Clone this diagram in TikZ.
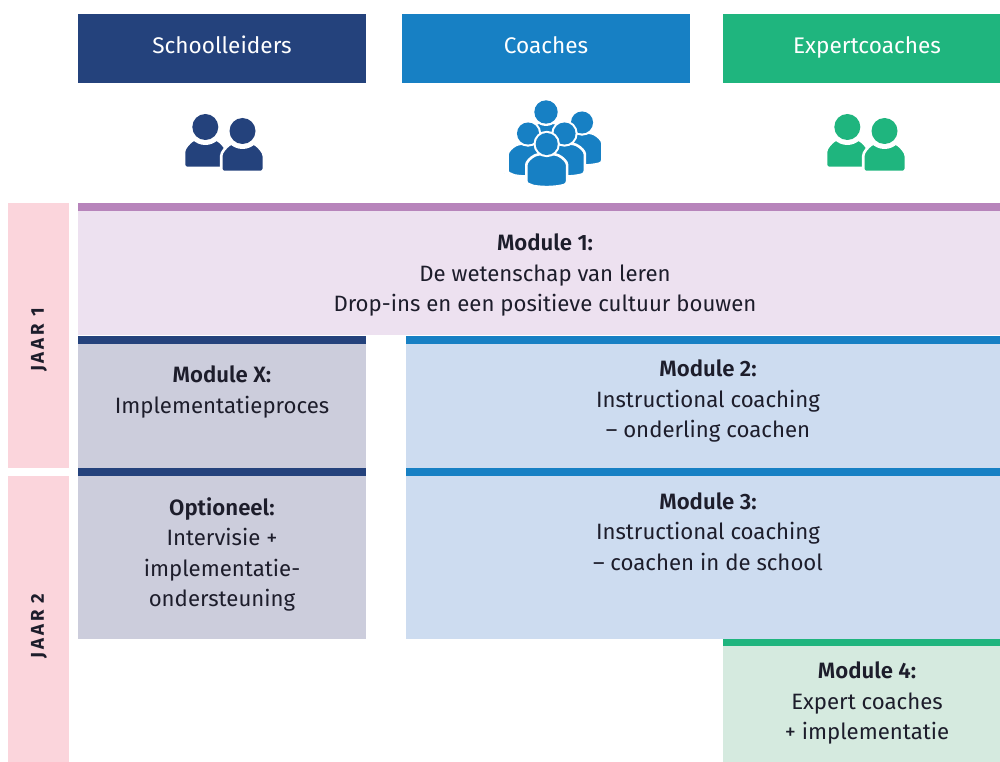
\documentclass[tikz,border=0pt]{standalone}
\usepackage{fontspec}
\setmainfont[BoldFont={Fira Sans SemiBold}]{Fira Sans}
\newfontfamily\jaarfont[LetterSpace=16]{Fira Sans Bold}
\usepackage{tikz}
\usetikzlibrary{positioning}
\definecolor{mainNavy}{HTML}{24427C}
\definecolor{mainBlue}{HTML}{1780C4}
\definecolor{mainGreen}{HTML}{1FB57E}
\definecolor{mainPurple}{HTML}{B784BB}
\definecolor{lightPurple}{HTML}{EDE1F0}
\definecolor{lightGrayBlue}{HTML}{CCCDDC}
\definecolor{lightBlue}{HTML}{CDDCF0}
\definecolor{lightGreen}{HTML}{D5EADF}
\definecolor{lightPink}{HTML}{FBD5DC}
\definecolor{mainInk}{HTML}{1D1D2B}
\tikzset{
    band/.style={anchor=north west, inner sep=0pt, outer sep=0pt},
    head/.style={band, minimum width=288, minimum height=69, text height=16, text depth=5, font=\fontsize{22.6}{26}\selectfont, text=white},
    modtext/.style={align=center, text=mainInk, font=\fontsize{22.2}{30.5}\selectfont},
    jaar/.style={rotate=90, text=mainInk, font=\fontsize{18.5}{22}\jaarfont},
    % colour, half width, bottom, sag of the bottom, white ring round the head
    pics/person/.style n args={5}{code={
        \filldraw[fill=#1, draw=white, line width=2.6, rounded corners=3] (-#2,#3) -- (-#2,28) .. controls (-#2,21) and (-#2+5,16) .. (-11,12)
            -- (11,12) .. controls (#2-5,16) and (#2,21) .. (#2,28) -- (#2,#3)
            .. controls (8,#3+#4) and (-8,#3+#4) .. cycle;
        \fill[white] (0,0) circle (#5);
        \fill[#1] (0,0) circle (13);
    }}
}
\begin{document}
\begin{tikzpicture}[x=1pt, y=-1pt]
    \useasboundingbox (0,0) rectangle (1000,762);

    % Headers
    \node[head, fill=mainNavy] (leiders) at (78,14) {Schoolleiders};
    \node[head, fill=mainBlue] (coaches) at (402,14) {Coaches};
    \node[head, fill=mainGreen] (experts) at (723,14) {Expertcoaches};

    % Icons
    \foreach \x/\c in {205.3/mainNavy, 847.3/mainGreen} {
        \pic at (\x,127) {person={\c}{21.3}{41}{0}{18}};
        \pic at (\x+37.2,131) {person={\c}{21.3}{41}{0}{18}};
    }
    \pic[scale=0.9] at (546,112) {person={mainBlue}{22}{44}{2}{15.5}};
    \pic[scale=0.85] at (582,122.5) {person={mainBlue}{24}{47.5}{4}{15.5}};
    \pic[scale=0.85] at (528,133.5) {person={mainBlue}{24}{47.5}{4}{15.5}};
    \pic[scale=0.85] at (564.5,133.5) {person={mainBlue}{24}{47.5}{4}{15.5}};
    \pic[scale=0.85] at (546.7,144) {person={mainBlue}{24}{47.5}{4}{15.5}};

    % Year bars
    \node[band, fill=lightPink, minimum width=61, minimum height=265] (jaar1) at (8,203) {};
    \node[band, fill=lightPink, minimum width=61, minimum height=286] (jaar2) at (8,476) {};
    \node[jaar] (jaar1txt) at (39,340) {JAAR 1};
    \node[jaar] (jaar2txt) at (39,626) {JAAR 2};

    % Module backgrounds
    \node[band, fill=lightPurple, minimum width=922, minimum height=124] (bg1) at (78,211) {};
    \node[band, fill=lightGrayBlue, minimum width=288, minimum height=124] (bgx) at (78,344) {};
    \node[band, fill=lightGrayBlue, minimum width=288, minimum height=163] (bgopt) at (78,476) {};
    \node[band, fill=lightBlue, minimum width=594, minimum height=124] (bg2) at (406,344) {};
    \node[band, fill=lightBlue, minimum width=594, minimum height=163] (bg3) at (406,476) {};
    \node[band, fill=lightGreen, minimum width=277, minimum height=116] (bg4) at (723,646) {};

    % Top strips
    \node[band, fill=mainPurple, minimum width=922, minimum height=8] (strip1) at (78,203) {};
    \foreach \y in {336,468} {
        \node[band, fill=mainNavy, minimum width=288, minimum height=8] (stripl\y) at (78,\y) {};
        \node[band, fill=mainBlue, minimum width=594, minimum height=8] (stripr\y) at (406,\y) {};
    }
    \node[band, fill=mainGreen, minimum width=277, minimum height=7] (strip4) at (723,639) {};

    % Texts
    \node[modtext] (mod1) at (545,275) {\textbf{Module 1:}\\De wetenschap van leren\\Drop-ins en een positieve cultuur bouwen};
    \node[modtext] (modx) at (222,392) {\textbf{Module X:}\\Implementatieproces};
    \node[modtext] (mod2) at (708,401) {\textbf{Module 2:}\\Instructional coaching\\– onderling coachen};
    \node[modtext] (mod3) at (708,531.5) {\textbf{Module 3:}\\Instructional coaching\\– coachen in de school};
    \node[modtext] (modopt) at (222,554.5) {\textbf{Optioneel:}\\Intervisie +\\implementatie-\\ondersteuning};
    \node[modtext] (mod4) at (867,703) {\textbf{Module 4:}\\Expert coaches\\+ implementatie};
\end{tikzpicture}
\end{document}
